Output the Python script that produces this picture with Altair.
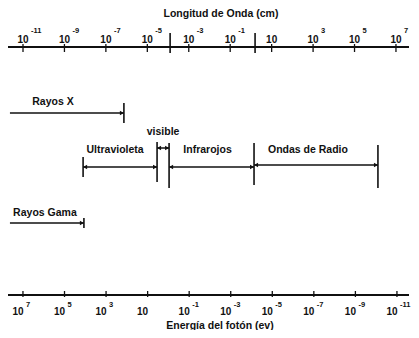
import altair as alt
import pandas as pd

# ---- data ----
# wavelength axis (cm): log10 exponents of the tick labels
wl_exponents = [-11, -9, -7, -5, -3, -1, 1, 3, 5, 7]
# photon energy axis (eV): log10 exponents of the tick labels
en_exponents = [7, 5, 3, 1, -1, -3, -5, -7, -9, -11]
# region boundaries on the wavelength axis (log10 cm), tall ticks
boundary_exponents = [-3.9, 0.2]

# spectral bands (log10 of wavelength in cm)
band_names = ["Rayos X", "Ultravioleta", "visible", "Infrarojos", "Ondas de Radio", "Rayos Gama"]
band_start = [-11.63, -8.10, -4.53, -3.95, 0.15, -11.63]
band_end = [-6.13, -4.53, -3.95, 0.15, 6.13, -8.06]

FONT = "Liberation Sans"
INK = "#111111"
FW = "bold"

WL = alt.Scale(domain=[-11.724, 7.629], nice=False, zero=False)
EN = alt.Scale(domain=[-11.58, 7.72], reverse=True, nice=False, zero=False)

def sup(e):
    return "" if e == 1 else str(e)

wl_df = pd.DataFrame({"e": wl_exponents, "base": "10", "sup": [sup(e) for e in wl_exponents]})
en_df = pd.DataFrame({"e": en_exponents, "base": "10", "sup": [sup(e) for e in en_exponents]})
bd_df = pd.DataFrame({"e": boundary_exponents})
bands = pd.DataFrame({"name": band_names, "start": band_start, "end": band_end})

layers = []

# ---- top axis (wavelength) ----
layers.append(alt.Chart(wl_df).mark_rule(color=INK, strokeWidth=1.6).encode(
    x=alt.value(0), x2=alt.value(401), y=alt.value(39)))
layers.append(alt.Chart(wl_df).mark_rule(color=INK, strokeWidth=1.3).encode(
    x=alt.X("e:Q", scale=WL, axis=None), y=alt.value(36), y2=alt.value(44)))
layers.append(alt.Chart(bd_df).mark_rule(color=INK, strokeWidth=1.6).encode(
    x=alt.X("e:Q", scale=WL, axis=None), y=alt.value(25), y2=alt.value(45)))
layers.append(alt.Chart(wl_df).mark_text(font=FONT, fontSize=10, fontWeight=FW, color=INK, baseline="middle", align="center", dx=0).encode(
    x=alt.X("e:Q", scale=WL, axis=None), y=alt.value(32), text="base:N"))
layers.append(alt.Chart(wl_df).mark_text(font=FONT, fontSize=7.5, fontWeight=FW, color=INK, baseline="middle", align="left", dx=8).encode(
    x=alt.X("e:Q", scale=WL, axis=None), y=alt.value(23), text="sup:N"))
layers.append(alt.Chart(wl_df.head(1)).mark_text(font=FONT, fontSize=10.5, fontWeight=FW, color=INK, baseline="middle", align="center").encode(
    x=alt.value(213), y=alt.value(6), text=alt.value("Longitud de Onda (cm)")))

# ---- bottom axis (photon energy) ----
layers.append(alt.Chart(en_df).mark_rule(color=INK, strokeWidth=1.6).encode(
    x=alt.value(0), x2=alt.value(401), y=alt.value(287)))
layers.append(alt.Chart(en_df).mark_rule(color=INK, strokeWidth=1.3).encode(
    x=alt.X("e:Q", scale=EN, axis=None), y=alt.value(283), y2=alt.value(289)))
layers.append(alt.Chart(en_df).mark_text(font=FONT, fontSize=10, fontWeight=FW, color=INK, baseline="middle", align="center", dx=-5).encode(
    x=alt.X("e:Q", scale=EN, axis=None), y=alt.value(304), text="base:N"))
layers.append(alt.Chart(en_df).mark_text(font=FONT, fontSize=7.5, fontWeight=FW, color=INK, baseline="middle", align="left", dx=3).encode(
    x=alt.X("e:Q", scale=EN, axis=None), y=alt.value(297), text="sup:N"))
layers.append(alt.Chart(en_df.head(1)).mark_text(font=FONT, fontSize=10.5, fontWeight=FW, color=INK, baseline="middle", align="center").encode(
    x=alt.value(212), y=alt.value(318), text=alt.value("Energía del fotón (ev)")))

# ---- bands: (arrow y, label y, label dx, left head, right head) ----
band_style = {
    "Rayos X":        (105, 94, -14, False, True),
    "Ultravioleta":   (159, 142, -5, True, True),
    "visible":        (140, 124, 0, True, True),
    "Infrarojos":     (159, 142, -4, True, True),
    "Ondas de Radio": (157, 142, -8, True, True),
    "Rayos Gama":     (215, 205, -2, False, True),
}
# vertical separators: (band, which end, y top, y bottom)
bar_style = [
    ("Rayos X", "end", 95, 115),
    ("Ultravioleta", "start", 149, 169),
    ("Ultravioleta", "end", 134, 174),
    ("visible", "end", 135, 180),
    ("Infrarojos", "end", 135, 177),
    ("Ondas de Radio", "end", 137, 180),
    ("Rayos Gama", "end", 210, 220),
]

for name in band_names:
    ay, ly, ldx, lh, rh = band_style[name]
    b = alt.Chart(bands).transform_filter(alt.datum.name == name)
    layers.append(b.mark_rule(color=INK, strokeWidth=1.5).encode(
        x=alt.X("start:Q", scale=WL, axis=None), x2="end:Q", y=alt.value(ay)))
    if rh:
        layers.append(b.mark_point(shape="triangle-right", filled=True, size=22, color=INK, opacity=1, xOffset=-2).encode(
            x=alt.X("end:Q", scale=WL, axis=None), y=alt.value(ay)))
    if lh:
        layers.append(b.mark_point(shape="triangle-left", filled=True, size=22, color=INK, opacity=1, xOffset=2).encode(
            x=alt.X("start:Q", scale=WL, axis=None), y=alt.value(ay)))
    layers.append(b.transform_calculate(mid="(datum.start + datum.end) / 2").mark_text(
        font=FONT, fontSize=10.5, fontWeight=FW, color=INK, baseline="middle", align="center", dx=ldx).encode(
        x=alt.X("mid:Q", scale=WL, axis=None), y=alt.value(ly), text="name:N"))

for name, end, y1, y2 in bar_style:
    b = alt.Chart(bands).transform_filter(alt.datum.name == name)
    layers.append(b.mark_rule(color=INK, strokeWidth=1.6).encode(
        x=alt.X(f"{end}:Q", scale=WL, axis=None), y=alt.value(y1), y2=alt.value(y2)))

chart = alt.layer(*layers).resolve_scale(x="independent").properties(
    width=401, height=322, autosize=alt.AutoSizeParams(type="none"),
    padding={"left": 0, "top": 0, "right": 2, "bottom": 0},
    background="white",
).configure_view(stroke=None)

chart.save("out.html", embed_options={"renderer": "svg", "actions": False})
